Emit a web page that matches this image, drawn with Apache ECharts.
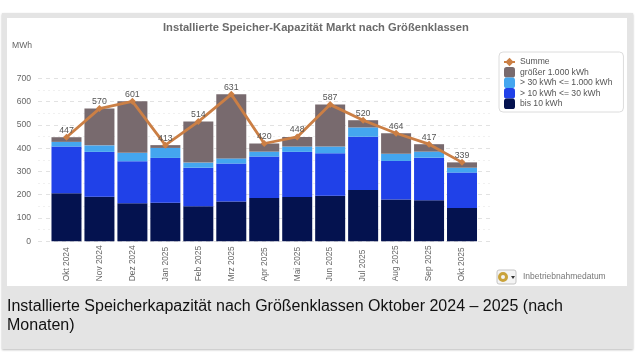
<!DOCTYPE html>
<html>
<head>
<meta charset="utf-8">
<title>Speicher-Kapazität</title>
<style>
  body { margin: 0; background: #fff; font-family: "Liberation Sans", Arial, sans-serif; }
  #panel { position: absolute; left: 2px; top: 13px; width: 631px; height: 336px; background: #e4e4e4; box-shadow: 0 1px 2px #bbb; }
  #white { position: absolute; left: 7px; top: 18px; width: 620px; height: 268px; background: #fff; }
  #main { position: absolute; left: 0; top: 0; width: 636px; height: 358px; }
  #caption { position: absolute; left: 7px; top: 296px; width: 610px; font-size: 16px; line-height: 19px; color: #111; }
</style>
<script src="https://cdn.jsdelivr.net/npm/echarts@6/dist/echarts.min.js"></script>
</head>
<body>
<div id="panel"></div>
<div id="white"></div>
<div id="main"></div>
<div id="caption">Installierte Speicherkapazität nach Größenklassen Oktober 2024 – 2025 (nach Monaten)</div>
<script>
"use strict";
var months = ["Okt 2024", "Nov 2024", "Dez 2024", "Jan 2025", "Feb 2025", "Mrz 2025", "Apr 2025",
  "Mai 2025", "Jun 2025", "Jul 2025", "Aug 2025", "Sep 2025", "Okt 2025"];
var bis10 = [206, 191, 163, 166, 151, 171, 186, 190, 196, 220, 179, 176, 143];
var von10bis30 = [201, 193, 181, 192, 165, 163, 178, 194, 182, 229, 166, 183, 152];
var von30bis1000 = [20, 28, 36, 43, 22, 22, 21, 23, 29, 40, 31, 26, 21];
var groesser1000 = [20, 158, 221, 12, 176, 275, 35, 41, 180, 31, 88, 32, 23];
var summe = [447, 570, 601, 413, 514, 631, 420, 448, 587, 520, 464, 417, 339];
var yTicks = [0, 100, 200, 300, 400, 500, 600, 700];

var greyText = "#666";

function barSeries(name, values, color) {
  return {
    name: name,
    type: "bar",
    stack: "summe",
    xAxisIndex: 1,
    yAxisIndex: 1,
    barWidth: 30,
    itemStyle: { color: color },
    data: values
  };
}

var chart = echarts.init(document.getElementById("main"));
chart.setOption({
  animation: false,
  title: {
    text: "Installierte Speicher-Kapazität Markt nach Größenklassen",
    left: 158,
    top: 17,
    textStyle: { fontFamily: "Liberation Sans", fontSize: 11.2, fontWeight: "bold", color: "#6b6b6b" }
  },
  legend: {
    left: 499,
    top: 52,
    orient: "vertical",
    padding: [5, 11, 3, 4],
    itemWidth: 11,
    itemHeight: 10.5,
    itemGap: 0,
    align: "left",
    backgroundColor: "#fff",
    borderColor: "#dcdcdc",
    borderWidth: 1,
    borderRadius: 4,
    data: ["Summe", "größer 1.000 kWh", "> 30 kWh <= 1.000 kWh", "> 10 kWh <= 30 kWh", "bis 10 kWh"],
    textStyle: { fontFamily: "Liberation Sans", fontSize: 8.6, lineHeight: 10, color: "#555" }
  },
  grid: [
    // grid 0 carries the y labels and the wider grid lines, grid 1 the bars
    { left: 38, top: 78.3, width: 452, height: 163 },
    { left: 50, top: 78.3, width: 428.5, height: 163 }
  ],
  xAxis: [
    { gridIndex: 0, type: "value", show: false, min: 0, max: 1 },
    {
      gridIndex: 1,
      type: "category",
      data: months,
      axisLine: { show: false },
      axisTick: { show: false },
      axisLabel: {
        interval: 0,
        rotate: 90,
        align: "left",
        verticalAlign: "middle",
        margin: 40,
        padding: [0, 0, 4, 0],
        fontFamily: "Liberation Sans",
        fontSize: 8.4,
        color: greyText
      }
    }
  ],
  yAxis: [
    {
      gridIndex: 0,
      type: "value",
      min: yTicks[0],
      max: yTicks[yTicks.length - 1],
      interval: 100,
      axisLine: { show: false },
      axisTick: { show: false },
      axisLabel: { margin: 7, fontFamily: "Liberation Sans", fontSize: 8.6, color: greyText },
      splitLine: { lineStyle: { color: "#e2e2e2", type: [4, 4], width: 1 } },
      minorTick: { show: false, splitNumber: 2 },
      minorSplitLine: { show: true, lineStyle: { color: "#f0f0f0", type: [2, 3], width: 1 } }
    },
    {
      gridIndex: 1,
      type: "value",
      show: false,
      min: yTicks[0],
      max: yTicks[yTicks.length - 1],
      interval: 100
    }
  ],
  series: [
    barSeries("bis 10 kWh", bis10, "#04124f"),
    barSeries("> 10 kWh <= 30 kWh", von10bis30, "#2041e8"),
    barSeries("> 30 kWh <= 1.000 kWh", von30bis1000, "#44a6ef"),
    barSeries("größer 1.000 kWh", groesser1000, "#786a6e"),
    {
      name: "Summe",
      type: "line",
      xAxisIndex: 1,
      yAxisIndex: 1,
      z: 5,
      symbol: "diamond",
      symbolSize: 7,
      lineStyle: { color: "#cb7f45", width: 2.8 },
      itemStyle: { color: "#cb7f45" },
      label: {
        show: true,
        position: "top",
        distance: -1,
        fontFamily: "Liberation Sans",
        fontSize: 8.8,
        color: "#555"
      },
      data: summe
    }
  ],
  graphic: [
    { type: "text", left: 12, top: 41, style: { text: "MWh", fontFamily: "Liberation Sans", fontSize: 8.6, fill: greyText } },
    { type: "text", left: 523, top: 272, style: { text: "Inbetriebnahmedatum", fontFamily: "Liberation Sans", fontSize: 8.5, fill: "#777" } },
    // kleiner Button unten rechts
    { type: "rect", shape: { x: 497, y: 270, width: 19, height: 14, r: 2 }, style: { fill: "#f4f4f4", stroke: "#c4c4c4" } },
    { type: "ring", shape: { cx: 503, cy: 277, r: 5, r0: 2 }, style: { fill: "#c9a23a" } },
    { type: "polygon", shape: { points: [[511, 276], [515, 276], [513, 279]] }, style: { fill: "#333" } }
  ]
});
</script>
</body>
</html>
